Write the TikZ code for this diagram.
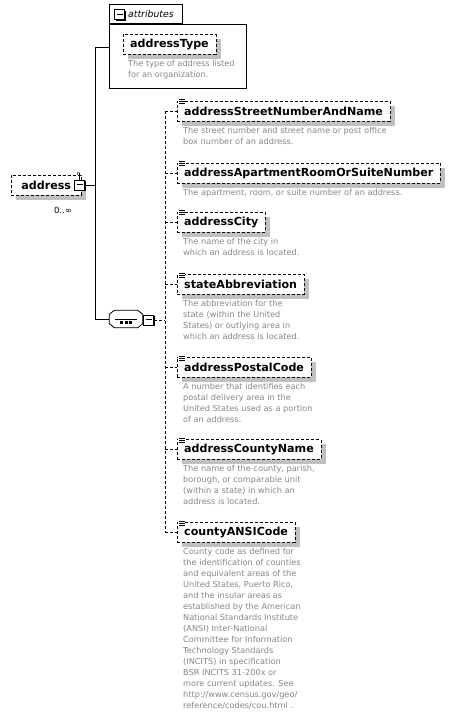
\documentclass[tikz,border=0pt]{standalone}
\usepackage{fontspec}
\setmainfont{DejaVu Sans}
\usetikzlibrary{positioning}
\usetikzlibrary{shadows}
\definecolor{descgray}{RGB}{135,135,140}
\definecolor{shadowgray}{RGB}{192,192,192}
\tikzset{
    elem/.style={draw=black, dash pattern=on 3pt off 2pt, fill=white, anchor=west,
        minimum height=20pt, inner xsep=7pt, inner ysep=0pt,
        font=\bfseries\fontsize{11.1}{13}\selectfont,
        general shadow={fill=shadowgray, shadow xshift=5pt, shadow yshift=-5pt}},
    desc/.style={inner sep=0pt, align=left, text=descgray,
        font=\fontsize{8.2}{11}\selectfont},
    minusbox/.style={draw=black, fill=white, minimum size=10pt, inner sep=0pt,
        general shadow={fill=black, shadow xshift=1.2pt, shadow yshift=-1.2pt}},
    tree/.style={draw=black, line width=0.8pt},
    dtree/.style={draw=black, line width=0.8pt, dash pattern=on 3pt off 2pt},
    seqbox/.style={minimum width=33pt, minimum height=17pt, inner sep=0pt},
}
\newcommand{\minussign}{\rule[0.4pt]{6pt}{0.9pt}}
\newcommand{\contenticon}[1]{%
    \fill[white] ([xshift=1pt,yshift=2pt]#1.north west) rectangle ++(7,6);
    \foreach \k in {-1,1,3} \draw[line width=0.6pt] ([xshift=2pt,yshift=-\k pt]#1.north west) -- ++(6,0);
}
\newcommand{\octagon}[1]{%
    ([xshift=5pt]#1.north west) -- ([xshift=-5pt]#1.north east) -- ([yshift=-4pt]#1.north east)
    -- ([yshift=4pt]#1.south east) -- ([xshift=-5pt]#1.south east) -- ([xshift=5pt]#1.south west)
    -- ([yshift=4pt]#1.south west) -- ([yshift=-4pt]#1.north west) -- cycle
}

\begin{document}
\begin{tikzpicture}[x=1pt, y=-1pt]
\useasboundingbox[fill=white] (0,0) rectangle (459,719);
% attributes group
\node[draw=black, line width=0.8pt, minimum width=137pt, minimum height=64pt, anchor=north west] (attrBox) at (109,24) {};
\node[draw=black, line width=0.8pt, minimum width=73pt, minimum height=19pt, anchor=south west] (attrTab) at (attrBox.north west) {};
\node[minusbox, general shadow={}] (attrMinus) at (119.5,14.5) {\minussign};
\node[anchor=west, inner sep=0pt, font=\itshape\fontsize{9.3}{11}\selectfont] (attrLabel) at (128,14) {attributes};
\node[elem] (addrType) at (123,44) {addressType};
\node[desc, below right=6pt and 5pt of addrType.south west, font=\fontsize{8.2}{10.5}\selectfont] (dAddrType) {The type of address listed\\for an organization.};
% root element
\node[elem, minimum width=70pt] (address) at (11,185) {address\hspace{7pt}};
\node[minusbox] (addrMinus) at (79.5,185) {\minussign};
\draw[line width=0.6pt] ([xshift=-4pt]address.north east) -- ++(0,-2) -- (addrMinus.north |- 0,173) -- (addrMinus.north);
\node[inner sep=0pt, font=\fontsize{8.5}{10}\selectfont] (occurs) at (63,210) {0..∞};
\coordinate (fork) at (95,185);
\coordinate (attrIn) at (attrBox.west |- 0,47);
% sequence
\node[seqbox] (seq) at (126,319) {};
\fill[shadowgray] [shift={(4,4)}] \octagon{seq};
\draw[tree, fill=white] \octagon{seq};
\draw[tree] ([xshift=6pt]seq.west) -- ([xshift=-6pt]seq.east);
\foreach \dx in {-6,-1.5,3} \fill ([xshift=\dx pt, yshift=-1.5pt]seq.center) rectangle +(3,3);
\node[minusbox] (seqMinus) at (148.5,320) {\minussign};
\coordinate (bus) at (165,320);
\draw[tree] (addrMinus.east) -- (fork);
\draw[tree] (fork) |- (attrIn);
\draw[tree] (fork) |- (seq.west);
% children
\node[elem] (street) at (177,111) {addressStreetNumberAndName};
\node[desc, below right=6pt and 6pt of street.south west] (dStreet) {The street number and street name or post office\\box number of an address.};
\node[elem] (apt) at (177,173) {addressApartmentRoomOrSuiteNumber};
\node[desc, below right=6pt and 6pt of apt.south west] (dApt) {The apartment, room, or suite number of an address.};
\node[elem] (city) at (177,222) {addressCity};
\node[desc, below right=6pt and 6pt of city.south west] (dCity) {The name of the city in\\which an address is located.};
\node[elem] (state) at (177,284) {stateAbbreviation};
\node[desc, below right=6pt and 6pt of state.south west] (dState) {The abbreviation for the\\state (within the United\\States) or outlying area in\\which an address is located.};
\node[elem] (postal) at (177,367) {addressPostalCode};
\node[desc, below right=6pt and 6pt of postal.south west] (dPostal) {A number that identifies each\\postal delivery area in the\\United States used as a portion\\of an address.};
\node[elem] (county) at (177,449) {addressCountyName};
\node[desc, below right=6pt and 6pt of county.south west] (dCounty) {The name of the county, parish,\\borough, or comparable unit\\(within a state) in which an\\address is located.};
\node[elem] (ansi) at (177,532) {countyANSICode};
\node[desc, below right=6pt and 6pt of ansi.south west] (dAnsi) {County code as defined for\\the identification of counties\\and equivalent areas of the\\United States, Puerto Rico,\\and the insular areas as\\established by the American\\National Standards Institute\\(ANSI) Inter-National\\Committee for Information\\Technology Standards\\(INCITS) in specification\\BSR INCITS 31-200x or\\more current updates. See\\http://www.census.gov/geo/\\reference/codes/cou.html .};
\foreach \n in {street,apt,city,state,postal,county,ansi} {
    \contenticon{\n}
    \draw[dtree] (bus |- \n.west) -- (\n.west);
}
\draw[dtree] (seqMinus.east) -- (bus);
\draw[dtree] (bus |- street.west) -- (bus |- ansi.west);
\end{tikzpicture}
\end{document}
